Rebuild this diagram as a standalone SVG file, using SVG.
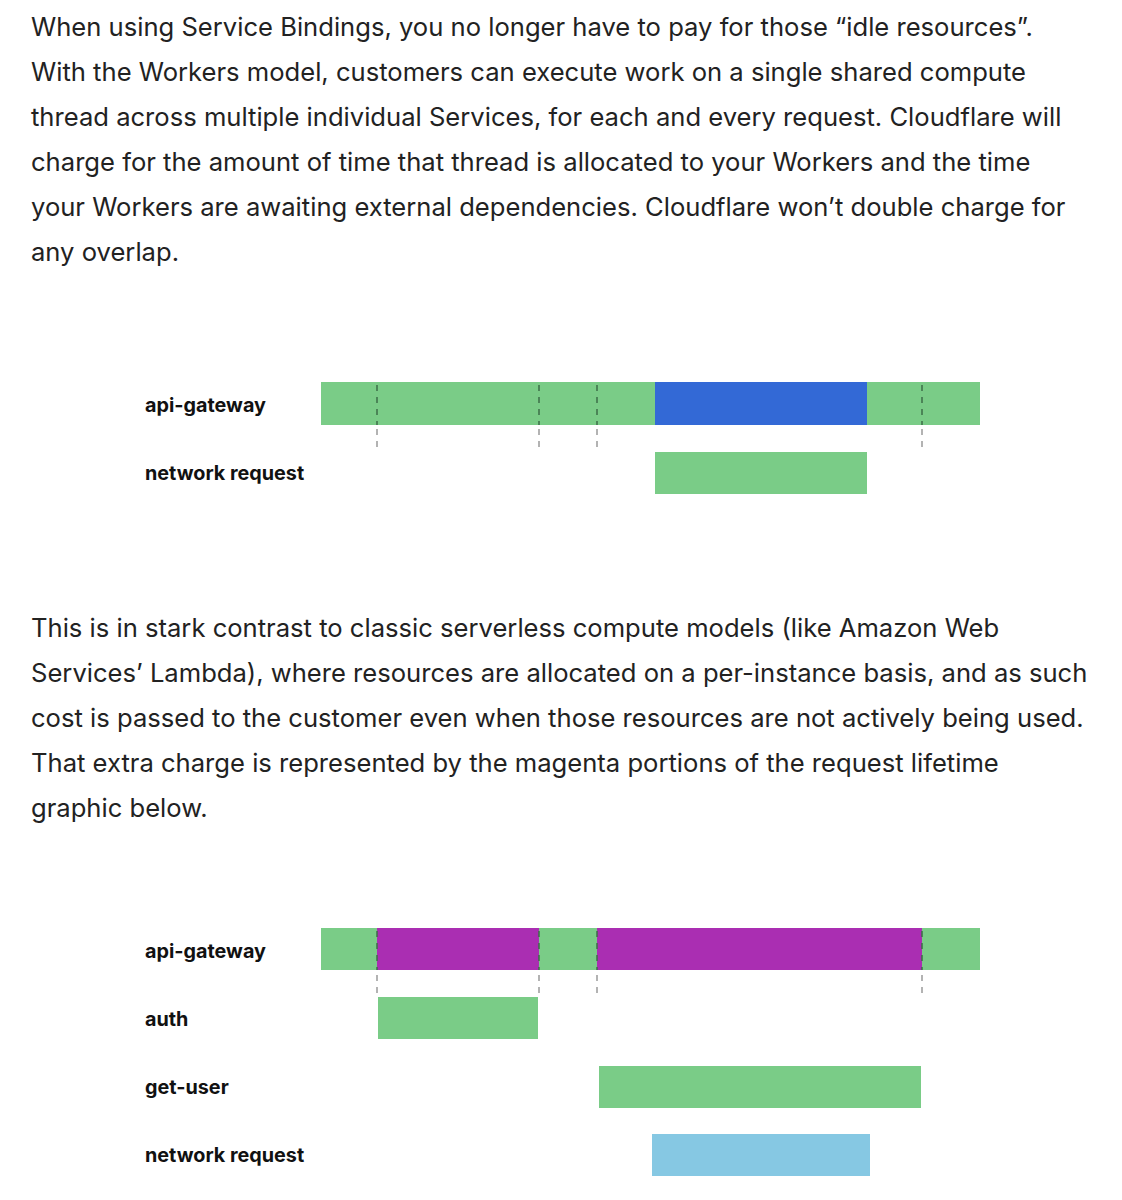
<svg xmlns="http://www.w3.org/2000/svg" width="1122" height="1200" viewBox="0 0 1122 1200">
<style>
.p{font-family:Inter,"Open Sans","Liberation Sans",sans-serif;font-size:25.6px;fill:#222}
.lb{font-family:Inter,"Liberation Sans",sans-serif;font-size:19.8px;font-weight:700;fill:#111}
.g{fill:#7acc87}
.dIn{stroke:#3d6e48;stroke-width:1.5;stroke-dasharray:6,6}
.dOut{stroke:#9a9a9a;stroke-width:1.5;stroke-dasharray:6,6}
</style>
<rect width="1122" height="1200" fill="#fff"/>
<g id="para1">
<text class="p" x="31" y="36">When using Service Bindings, you no longer have to pay for those “idle resources”.</text>
<text class="p" x="31" y="81">With the Workers model, customers can execute work on a single shared compute</text>
<text class="p" x="31" y="126">thread across multiple individual Services, for each and every request. Cloudflare will</text>
<text class="p" x="31" y="171">charge for the amount of time that thread is allocated to your Workers and the time</text>
<text class="p" x="31" y="216">your Workers are awaiting external dependencies. Cloudflare won’t double charge for</text>
<text class="p" x="31" y="261">any overlap.</text>
</g>
<g id="chart1">
<text class="lb" x="145" y="412">api-gateway</text>
<text class="lb" x="145" y="480">network request</text>
<rect class="g" x="321" y="382" width="659" height="43"/>
<rect x="655" y="382" width="212" height="43" fill="#3369d6"/>
<rect class="g" x="655" y="452" width="212" height="42"/>
<g id="dashes1">
<line class="dIn" x1="377" y1="385" x2="377" y2="425"/><line class="dOut" x1="377" y1="429" x2="377" y2="452"/>
<line class="dIn" x1="539" y1="385" x2="539" y2="425"/><line class="dOut" x1="539" y1="429" x2="539" y2="452"/>
<line class="dIn" x1="597" y1="385" x2="597" y2="425"/><line class="dOut" x1="597" y1="429" x2="597" y2="452"/>
<line class="dIn" x1="922" y1="385" x2="922" y2="425"/><line class="dOut" x1="922" y1="429" x2="922" y2="452"/>
</g>
</g>
<g id="para2">
<text class="p" x="31" y="637">This is in stark contrast to classic serverless compute models (like Amazon Web</text>
<text class="p" x="31" y="682">Services’ Lambda), where resources are allocated on a per-instance basis, and as such</text>
<text class="p" x="31" y="727">cost is passed to the customer even when those resources are not actively being used.</text>
<text class="p" x="31" y="772">That extra charge is represented by the magenta portions of the request lifetime</text>
<text class="p" x="31" y="817">graphic below.</text>
</g>
<g id="chart2">
<text class="lb" x="145" y="958">api-gateway</text>
<text class="lb" x="145" y="1026">auth</text>
<text class="lb" x="145" y="1094">get-user</text>
<text class="lb" x="145" y="1162">network request</text>
<rect class="g" x="321" y="928" width="659" height="42"/>
<rect x="377" y="928" width="162" height="42" fill="#aa2eb2"/>
<rect x="597" y="928" width="325" height="42" fill="#aa2eb2"/>
<rect class="g" x="378" y="997" width="160" height="42"/>
<rect class="g" x="599" y="1066" width="322" height="42"/>
<rect x="652" y="1134" width="218" height="42" fill="#86c8e3"/>
<g id="dashes2">
<line class="dIn" x1="377" y1="931" x2="377" y2="970"/><line class="dOut" x1="377" y1="975" x2="377" y2="997"/>
<line class="dIn" x1="539" y1="931" x2="539" y2="970"/><line class="dOut" x1="539" y1="975" x2="539" y2="997"/>
<line class="dIn" x1="597" y1="931" x2="597" y2="970"/><line class="dOut" x1="597" y1="975" x2="597" y2="997"/>
<line class="dIn" x1="922" y1="931" x2="922" y2="970"/><line class="dOut" x1="922" y1="975" x2="922" y2="997"/>
</g>
</g>
</svg>
